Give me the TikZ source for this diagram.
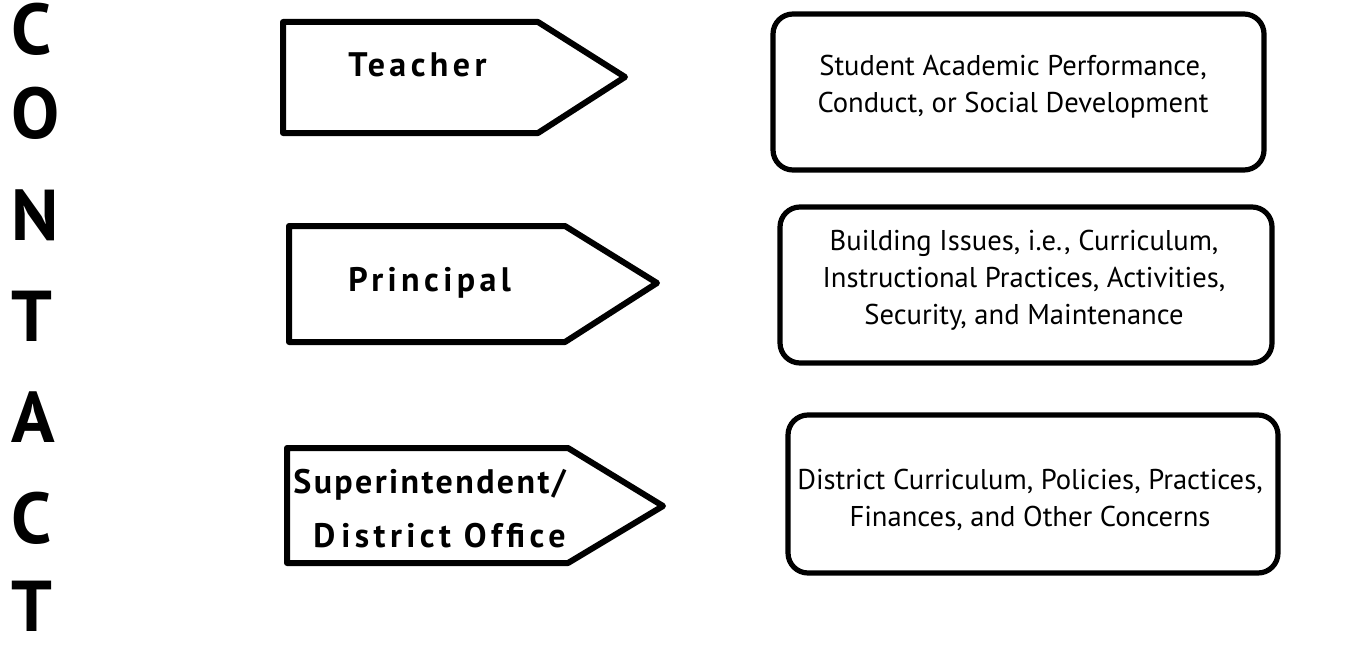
\documentclass[tikz,border=0pt]{standalone}
\usepackage{fontspec}
\setmainfont{PT Sans}
\begin{document}
\begin{tikzpicture}[x=0.5pt, y=-0.5pt,
	sign/.style = {line width=3pt, line join=round},
	topic/.style = {line width=2.6pt, rounded corners=10pt},
	who/.style = {font=\bfseries\fontsize{17}{19}\selectfont\addfontfeature{LetterSpace=13}, anchor=base west, inner sep=0pt},
	what/.style = {font=\fontsize{14.3}{18.5}\selectfont, align=center},
	letter/.style = {font=\bfseries\fontsize{36}{36}\selectfont, anchor=base west, inner sep=0pt}]
	
	\useasboundingbox (0,0) rectangle (1369,647);
	
	% the word down the left side
	\foreach \ch/\yy [count=\i] in {C/55, O/139, N/240, T/341, A/442, C/543, T/631}
	\node[letter] (l\i) at (11,\yy) {\ch};
	
	% who to contact
	\draw[sign] (283,22) -- (538,22) -- (625,77) -- (538,133) -- (283,133) -- cycle;
	\draw[sign] (289,226) -- (565,226) -- (657,283) -- (565,342) -- (289,342) -- cycle;
	\draw[sign] (287,448) -- (568,448) -- (663,506) -- (568,563) -- (287,563) -- cycle;
	
	\node[who] (teacher) at (348,77) {Teacher};
	\node[who] (principal) at (348,291) {Principal};
	\node[who, font=\bfseries\fontsize{17}{19}\selectfont\addfontfeature{LetterSpace=7}] (super) at (293,493) {Superintendent/};
	\node[who] (office) at (313,547) {D\kern3pt istrict Office};
	
	% what about
	\draw[topic] (773,14) rectangle (1264,170);
	\draw[topic] (780,207) rectangle (1272,363);
	\draw[topic] (788,415) rectangle (1278,573);
	
	\node[what] (perf) at (1013,87) {Student Academic Performance,\\Conduct, or Social Development};
	\node[what] (bldg) at (1024,280) {Building Issues, i.e., Curriculum,\\Instructional Practices, Activities,\\Security, and Maintenance};
	\node[what] (dist) at (1030,500) {District Curriculum, Policies, Practices,\\Finances, and Other Concerns};
\end{tikzpicture}
\end{document}
